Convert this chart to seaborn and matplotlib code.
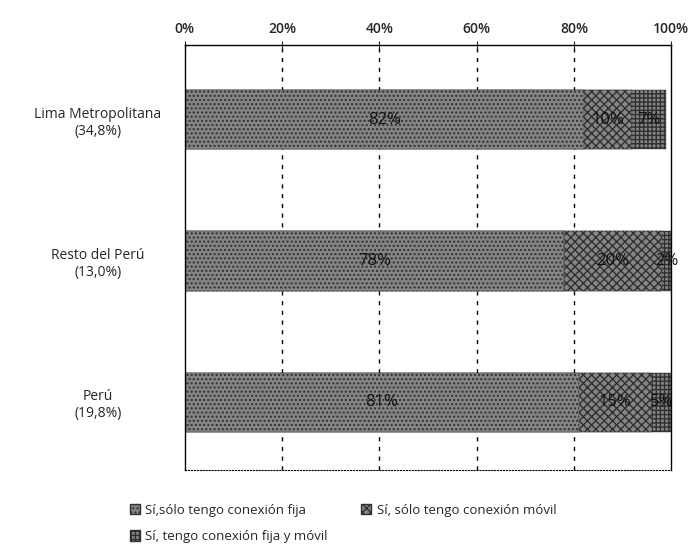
import numpy as np
import pandas as pd
import matplotlib
matplotlib.use("Agg")
import matplotlib.pyplot as plt
from matplotlib.patches import Patch
import seaborn as sns

# datos
regiones = ["Lima Metropolitana\n(34,8%)", "Resto del Perú\n(13,0%)", "Perú\n(19,8%)"]
solo_fija = [82, 78, 81]
solo_movil = [10, 20, 15]
fija_y_movil = [7, 2, 5]
series = ["Sí,sólo tengo conexión fija", "Sí, sólo tengo conexión móvil",
          "Sí, tengo conexión fija y móvil"]
ticks = [0, 20, 40, 60, 80, 100]

sns.set_style("white")
plt.rcParams['font.family'] = ['Open Sans', 'DejaVu Sans']

df = pd.DataFrame({"region": regiones, "fija": solo_fija,
                   "movil": solo_movil, "ambos": fija_y_movil})
df["c1"] = df["fija"]
df["c2"] = df["fija"] + df["movil"]
df["c3"] = np.minimum(df["c2"] + df["ambos"], 100)

fig = plt.figure(figsize=(6.92, 5.55), dpi=100)
ax = fig.add_axes([0.267, 0.153, 0.703, 0.766])

gris = "#858585"
hatches = ["....", "xxxx", "++++"]
plt.rcParams['hatch.color'] = "#303030"
for col, h in zip(["c3", "c2", "c1"], hatches[::-1]):
    sns.barplot(data=df, x=col, y="region", orient="h", color=gris,
                width=0.42, ax=ax, edgecolor="#303030", linewidth=0.3,
                hatch=h, saturation=1)

# etiquetas
for i in range(len(regiones)):
    segs = [(0, df["c1"][i], solo_fija[i]),
            (df["c1"][i], df["c2"][i], solo_movil[i]),
            (df["c2"][i], df["c3"][i], fija_y_movil[i])]
    for a, b, v in segs:
        ax.text((a + b) / 2, i, f"{v}%", ha="center", va="center",
                fontsize=12, color="#111111")

ax.set_xlim(0, 100)
ax.set_ylim(2.48, -0.53)
ax.set_xticks(ticks)
ax.set_xticklabels([f"{t}%" for t in ticks], fontsize=10, fontweight="semibold")
ax.xaxis.tick_top()
ax.tick_params(axis="x", direction="inout", length=6, top=True, bottom=False)
ax.tick_params(axis="y", length=0, labelsize=10, pad=10)
for lbl in ax.get_yticklabels():
    lbl.set_horizontalalignment("center")
    lbl.set_x(-0.15)
ax.set_xlabel("")
ax.set_ylabel("")
for x in [20, 40, 60, 80]:
    ax.axvline(x, color="black", linestyle=(0, (3, 4)), linewidth=1, zorder=0)
for s in ["left", "top", "right"]:
    ax.spines[s].set_color("black")
    ax.spines[s].set_linewidth(1)
ax.spines["bottom"].set_linestyle(":")
ax.spines["bottom"].set_color("black")

handles = [Patch(facecolor=gris, edgecolor="#303030", hatch=h, label=s)
           for h, s in zip(hatches, series)]
# orden de columnas: fija y ambos en la primera, movil en la segunda
handles = [handles[0], handles[2], handles[1]]
fig.legend(handles=handles, loc="lower left", bbox_to_anchor=(0.17, 0.0),
           ncol=2, frameon=False, fontsize=9.5, handlelength=0.8,
           handleheight=0.8, handletextpad=0.4, columnspacing=2.5,
           labelspacing=1.0)

fig.savefig("out.png", dpi=100)
